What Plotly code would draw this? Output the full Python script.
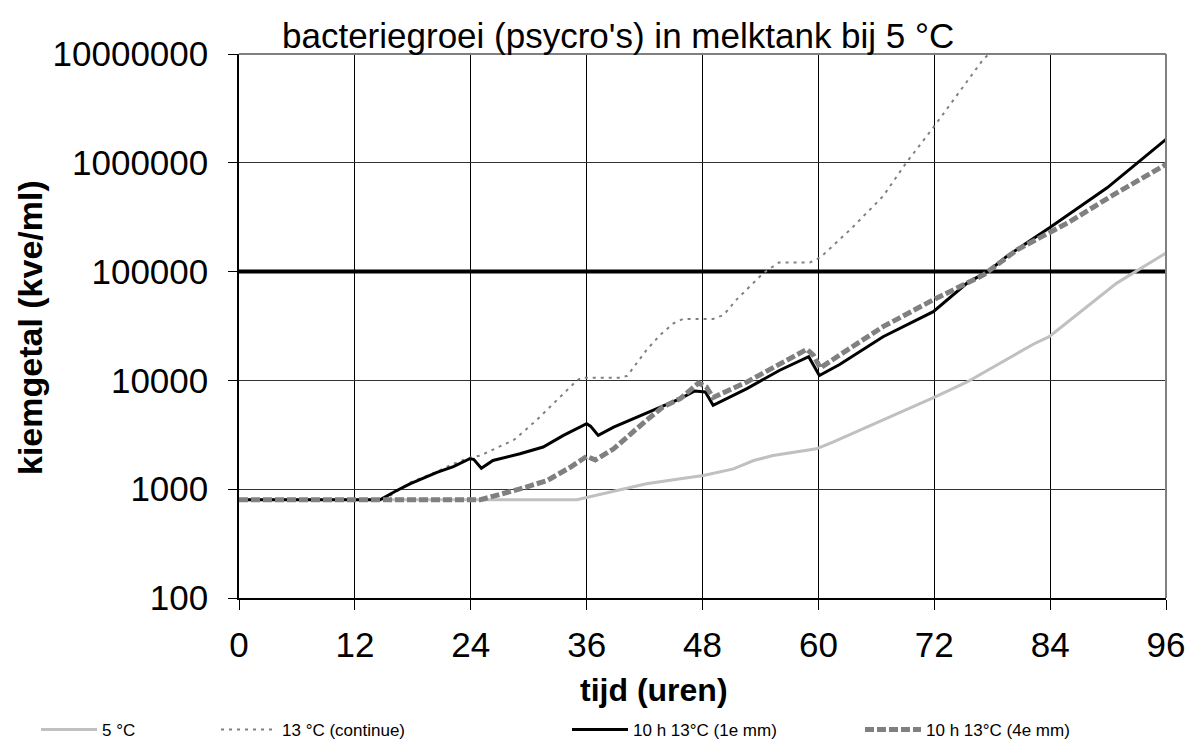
import plotly.graph_objects as go

# ---------------- data ----------------
t_5c = [0, 35, 38.8, 42.2, 45.7, 48.1, 51.2, 53.3, 55.3, 59.8, 61.5, 65, 68.5,
        72.1, 75.4, 78.8, 82.3, 83.9, 87.4, 90.9, 94.3, 96]
v_5c = [800, 800, 957, 1120, 1245, 1335, 1538, 1835, 2040, 2350, 2710, 3720, 5120,
        7040, 9680, 14300, 21600, 25200, 44400, 78400, 120000, 148000]

t_13c = [0, 15, 17.7, 20.5, 22.2, 23.9, 25, 28.5, 30.8, 32.2, 35, 35.5, 39.5,
         40.2, 42.2, 43.6, 45, 46, 49.1, 50.2, 51.5, 52.9, 54.3, 55.9, 59.1,
         60.2, 63.3, 66.7, 69.1, 71.9, 74.3, 77.1, 78.2]
v_13c = [800, 800, 1150, 1450, 1710, 1950, 2040, 2850, 4300, 5700, 10000, 10600, 10600,
         11000, 19000, 26100, 33500, 36700, 36700, 40000, 55000, 73000, 96900, 121000, 121000,
         135000, 243000, 493000, 1000000, 2110000, 4120000, 9000000, 11000000]

t_1e = [0, 14.6, 16.2, 17.7, 20.5, 22.2, 23.9, 24.3, 25.1, 26.3, 29.1, 31.5, 33.6,
        36, 36.4, 37.2, 38.8, 42.2, 45.7, 47.2, 48.3, 49.1, 52.6, 56, 57.8, 59,
        60.1, 62.2, 66.7, 71.9, 75.4, 77.8, 79.5, 83.9, 89.9, 93.7, 96]
v_1e = [800, 800, 957, 1120, 1430, 1615, 1905, 1880, 1560, 1836, 2117, 2440, 3120,
        4000, 3800, 3120, 3720, 5010, 6800, 8000, 7820, 5900, 8410, 12400, 14800, 16500,
        11100, 14000, 25200, 42800, 78400, 104000, 138000, 252000, 589000, 1110000, 1640000]

t_4e = [0, 25, 29.1, 31.9, 34.3, 36, 36.9, 38.8, 42.2, 43.9, 45.7, 47.6, 48.4,
        49.1, 52.6, 56, 58.8, 59.5, 60.2, 62.2, 66.7, 71.9, 77.1, 80.6, 85.8, 90.9, 96]
v_4e = [800, 800, 1006, 1200, 1590, 2000, 1860, 2350, 4300, 5700, 6800, 9480, 8700,
        6950, 9680, 14300, 19300, 17000, 13000, 17100, 31200, 55000, 93300, 159000, 280000, 530000, 966000]

norm_t = [0, 96]
norm_v = [100000, 100000]

x_ticks = [0, 12, 24, 36, 48, 60, 72, 84, 96]
y_ticks = [100, 1000, 10000, 100000, 1000000, 10000000]
y_ticklabels = ["100", "1000", "10000", "100000", "1000000", "10000000"]

names = ["5 °C", "13 °C (continue)", "10 h 13°C (1e mm)", "10 h 13°C (4e mm)"]
title_text = "bacteriegroei (psycro's) in melktank bij 5 °C"
x_title = "tijd (uren)"
y_title = "kiemgetal (kve/ml)"

# ---------------- layout geometry ----------------
W, H = 1189, 740
L, R, T, B = 239, 23, 54, 142
PW, PH = W - L - R, H - T - B
FONT = "Liberation Sans, Arial, sans-serif"


def px_x(p):
    return (p - L) / PW


def px_y(p):
    return (H - B - p) / PH


fig = go.Figure()

fig.add_trace(go.Scatter(x=norm_t, y=norm_v, mode="lines", showlegend=False,
                         line=dict(color="black", width=4), hoverinfo="skip"))
fig.add_trace(go.Scatter(x=t_5c, y=v_5c, mode="lines", name=names[0], legend="legend",
                         line=dict(color="#c0c0c0", width=3)))
fig.add_trace(go.Scatter(x=t_13c, y=v_13c, mode="lines", name=names[1], legend="legend2",
                         line=dict(color="#808080", width=2, dash="3px,5px")))
fig.add_trace(go.Scatter(x=t_1e, y=v_1e, mode="lines", name=names[2], legend="legend3",
                         line=dict(color="black", width=3)))
fig.add_trace(go.Scatter(x=t_4e, y=v_4e, mode="lines", name=names[3], legend="legend4",
                         line=dict(color="#808080", width=5, dash="9px,3px")))

leg_common = dict(orientation="h", xanchor="left", yanchor="middle", y=px_y(730),
                  font=dict(family=FONT, size=17, color="black"),
                  bgcolor="rgba(0,0,0,0)", borderwidth=0, itemwidth=56)

fig.update_layout(
    width=W, height=H,
    margin=dict(l=L, r=R, t=T, b=B, autoexpand=False),
    paper_bgcolor="white", plot_bgcolor="white",
    font=dict(family=FONT, color="black"),
    legend=dict(x=px_x(36), **leg_common),
    legend2=dict(x=px_x(216), **leg_common),
    legend3=dict(x=px_x(567), **leg_common),
    legend4=dict(x=px_x(860), **leg_common),
    xaxis=dict(range=[0, 96], tickvals=x_ticks, ticks="outside", ticklen=10,
               tickcolor="black", showline=True, linecolor="black", linewidth=1.5,
               showgrid=True, gridcolor="black", gridwidth=1, zeroline=False,
               ticklabelstandoff=5, automargin=False,
               tickfont=dict(family=FONT, size=35, color="black")),
    yaxis=dict(type="log", range=[2, 7], tickvals=y_ticks, ticktext=y_ticklabels,
               ticks="outside", ticklen=9, tickcolor="black", showline=True,
               linecolor="black", linewidth=1.5, showgrid=True, gridcolor="#333333",
               gridwidth=1, zeroline=False, ticklabelstandoff=13, automargin=False,
               tickfont=dict(family=FONT, size=35, color="black")),
    shapes=[
        dict(type="line", xref="paper", yref="paper", x0=0, x1=1, y0=1, y1=1,
             line=dict(color="#808080", width=2)),
        dict(type="line", xref="paper", yref="paper", x0=1, x1=1, y0=0, y1=1,
             line=dict(color="#808080", width=2)),
    ],
    annotations=[
        dict(text=title_text, xref="paper", yref="paper", x=px_x(618), y=px_y(36),
             xanchor="center", yanchor="middle", showarrow=False,
             font=dict(family=FONT, size=35, color="black")),
        dict(text="<b>" + x_title + "</b>", xref="paper", yref="paper", x=px_x(654),
             y=px_y(690), xanchor="center", yanchor="middle", showarrow=False,
             font=dict(family=FONT, size=32, color="black")),
        dict(text="<b>" + y_title + "</b>", xref="paper", yref="paper", x=px_x(30),
             y=px_y(328), xanchor="center", yanchor="middle", showarrow=False,
             textangle=-90, font=dict(family=FONT, size=34, color="black")),
    ],
)

fig.write_html("out.html", config={"displayModeBar": False},
               post_script="document.body.style.margin='0';")
